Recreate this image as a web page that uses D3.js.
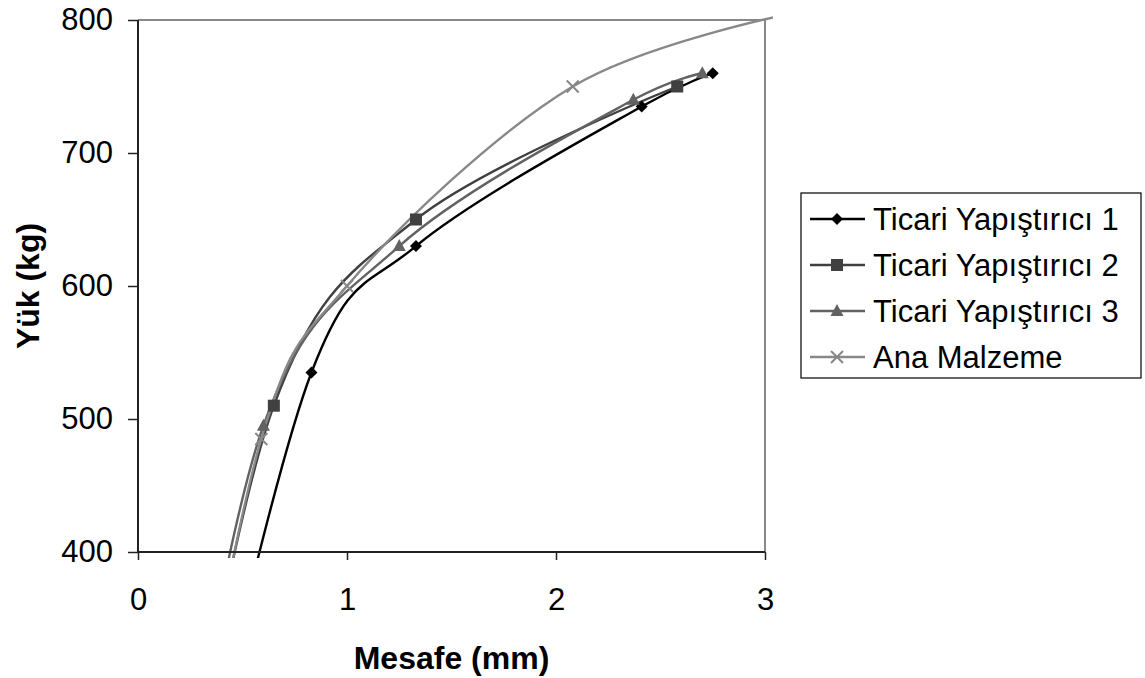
<!DOCTYPE html>
<html>
<head>
<meta charset="utf-8">
<script src="https://cdn.jsdelivr.net/npm/d3@7"></script>
<style>
  body { margin: 0; background: #fff; }
  svg { font-family: "Liberation Sans", Arial, sans-serif; }
</style>
</head>
<body>
<svg id="chart"></svg>
<script>
// series: [mesafe mm, yük kg]
var ticari1 = [[0, 0], [0.83, 535], [1.33, 630], [2.41, 735], [2.75, 760]]
var ticari2 = [[0, 0], [0.65, 510], [1.33, 650], [2.58, 750]]
var ticari3 = [[0, 0], [0.60, 495], [1.25, 630], [2.37, 740], [2.70, 760]]
var anaMalzeme = [[0, 0], [0.59, 485], [1.0, 600], [2.08, 750], [3.1, 804]]

var seriesNames = ['Ticari Yapıştırıcı 1', 'Ticari Yapıştırıcı 2', 'Ticari Yapıştırıcı 3', 'Ana Malzeme']
var xTicks = [0, 1, 2, 3]
var yTicks = [400, 500, 600, 700, 800]

var series = [
  {name: seriesNames[0], values: ticari1, color: '#000000', marker: 'diamond'},
  {name: seriesNames[1], values: ticari2, color: '#404040', marker: 'square'},
  {name: seriesNames[2], values: ticari3, color: '#626262', marker: 'triangle'},
  {name: seriesNames[3], values: anaMalzeme, color: '#888888', marker: 'cross'}
]

var svg = d3.select('#chart').attr('width', 1145).attr('height', 678)
var pLeft = 138, pRight = 765, pTop = 20, pBottom = 552

var x = d3.scaleLinear().domain([0, 3]).range([pLeft, pRight])
var y = d3.scaleLinear().domain([400, 800]).range([pBottom, pTop])

svg.append('clipPath').attr('id', 'clip')
  .append('rect').attr('x', pLeft).attr('y', pTop - 4)
  .attr('width', pRight - pLeft + 8).attr('height', pBottom - pTop + 10)

// gray top/right border of plot area
svg.append('path')
  .attr('d', 'M' + pLeft + ',' + pTop + 'H' + pRight + 'V' + pBottom)
  .attr('fill', 'none').attr('stroke', '#888').attr('stroke-width', 2)

var line = d3.line()
  .x(d => x(d[0])).y(d => y(d[1]))
  .curve(d3.curveCatmullRom.alpha(0.2))

var g = svg.append('g').attr('clip-path', 'url(#clip)')

series.forEach(s => {
  g.append('path').datum(s.values)
    .attr('d', line)
    .attr('fill', 'none')
    .attr('stroke', s.color)
    .attr('stroke-width', 2.4)
})

function drawMarker(sel, type, color) {
  if (type == 'diamond') {
    sel.append('path').attr('d', 'M0,-6L6,0L0,6L-6,0Z').attr('fill', color)
  } else if (type == 'square') {
    sel.append('rect').attr('x', -6).attr('y', -6).attr('width', 12).attr('height', 12).attr('fill', color)
  } else if (type == 'triangle') {
    sel.append('path').attr('d', 'M0,-7L6.5,5L-6.5,5Z').attr('fill', color)
  } else {
    sel.append('path').attr('d', 'M-6,-6L6,6M-6,6L6,-6')
      .attr('stroke', color).attr('stroke-width', 2)
  }
}

series.forEach(s => {
  s.values.filter(d => d[1] >= 400 && d[0] <= 3).forEach(d => {
    var m = svg.append('g').attr('transform', 'translate(' + x(d[0]) + ',' + y(d[1]) + ')')
    drawMarker(m, s.marker, s.color)
  })
})

// axes
var yAxis = svg.append('g').attr('transform', 'translate(' + pLeft + ',0)')
  .call(d3.axisLeft(y).tickValues(yTicks).tickSize(10).tickPadding(15))
var xAxis = svg.append('g').attr('transform', 'translate(0,' + pBottom + ')')
  .call(d3.axisBottom(x).tickValues(xTicks).tickSize(8).tickPadding(28).tickFormat(d3.format('d')))

;[xAxis, yAxis].forEach(a => {
  a.select('.domain').attr('stroke', '#222').attr('stroke-width', 2)
  a.selectAll('.tick line').attr('stroke', '#222').attr('stroke-width', 1.5)
  a.selectAll('text').attr('font-size', 31).attr('fill', '#000')
    .attr('font-family', '"Liberation Sans", Arial, sans-serif')
})
xAxis.select('.domain').attr('d', 'M' + pLeft + ',0H' + pRight)
yAxis.select('.domain').attr('d', 'M0,' + pTop + 'V' + pBottom)

svg.append('text')
  .attr('x', (pLeft + pRight) / 2).attr('y', 669)
  .attr('text-anchor', 'middle')
  .attr('font-size', 32).attr('font-weight', 'bold')
  .text('Mesafe (mm)')

svg.append('text')
  .attr('transform', 'translate(39,' + (pTop + pBottom) / 2 + ') rotate(-90)')
  .attr('text-anchor', 'middle')
  .attr('font-size', 32).attr('font-weight', 'bold')
  .text('Yük (kg)')

// legend
var legend = svg.append('g')
legend.append('rect')
  .attr('x', 801).attr('y', 193).attr('width', 340).attr('height', 185)
  .attr('fill', '#fff').attr('stroke', '#000').attr('stroke-width', 1.2)

series.forEach((s, i) => {
  var ly = 219 + i * 46
  legend.append('line')
    .attr('x1', 810).attr('x2', 865).attr('y1', ly).attr('y2', ly)
    .attr('stroke', s.color).attr('stroke-width', 2.4)
  var m = legend.append('g').attr('transform', 'translate(837,' + ly + ')')
  drawMarker(m, s.marker, s.color)
  legend.append('text')
    .attr('x', 873).attr('y', ly + 11)
    .attr('font-size', 31)
    .text(s.name)
})
</script>
</body>
</html>
